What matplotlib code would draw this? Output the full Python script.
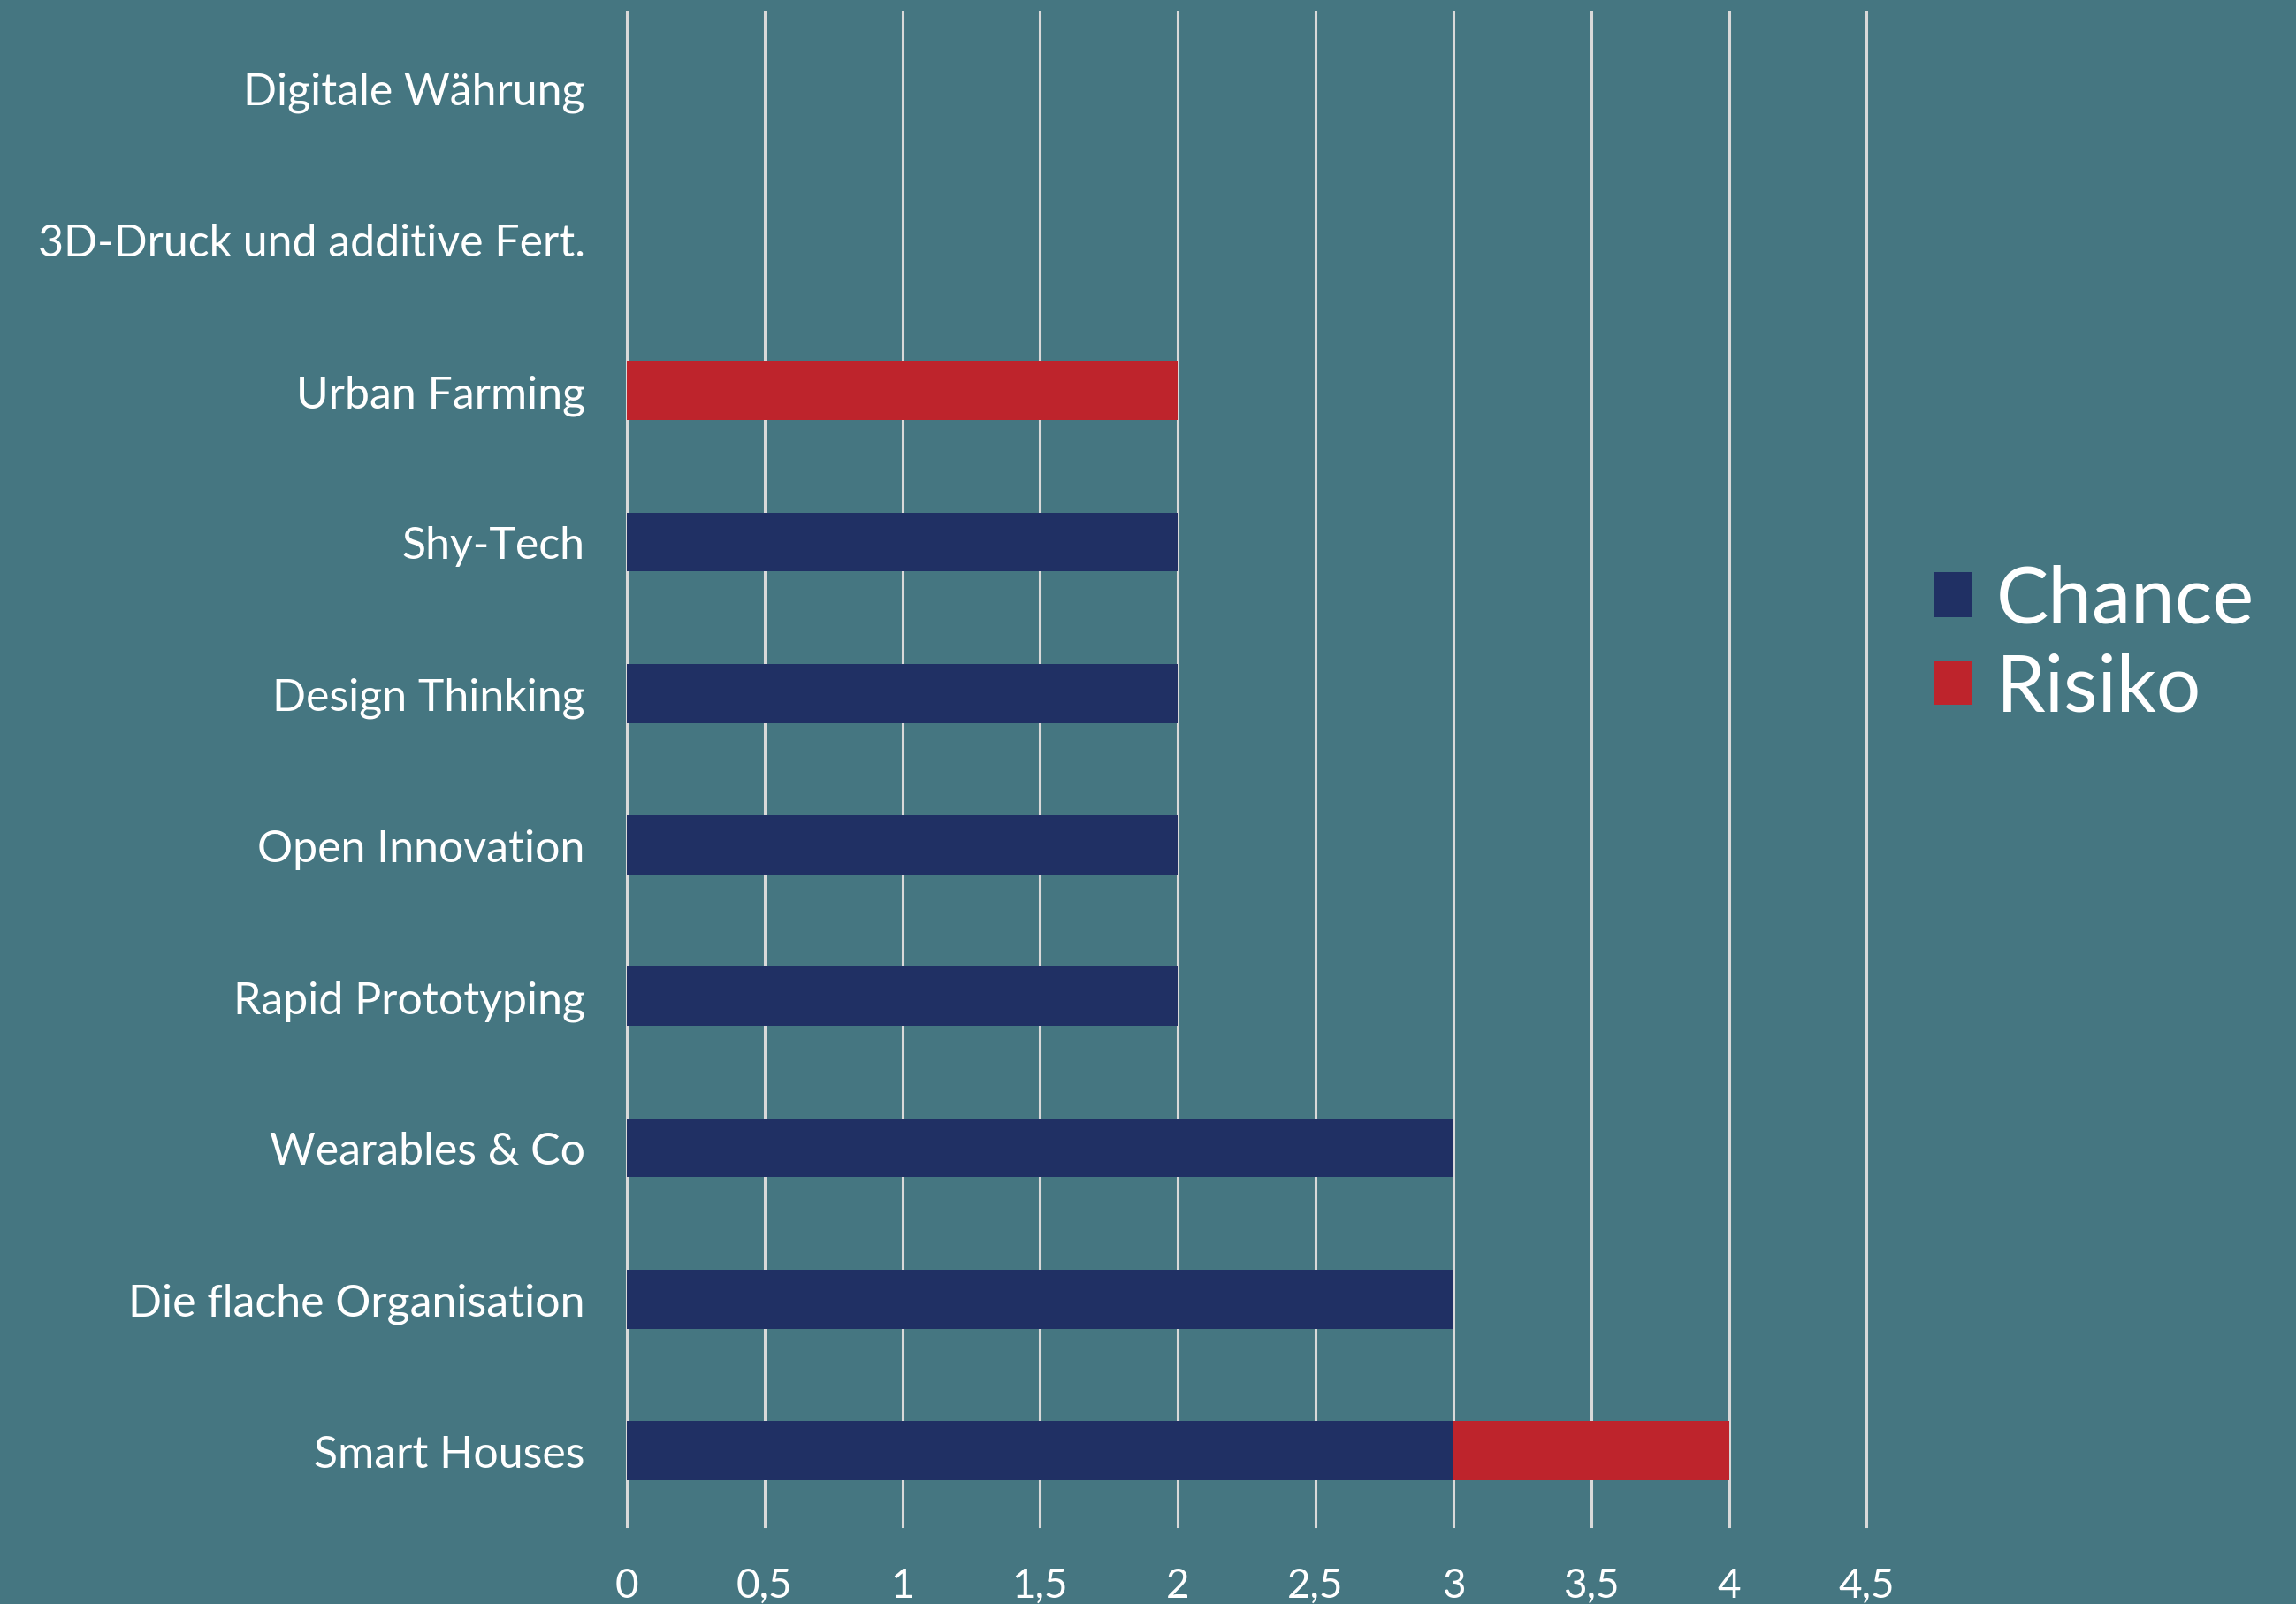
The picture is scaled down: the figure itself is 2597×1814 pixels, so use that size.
import matplotlib
matplotlib.use("Agg")
import matplotlib.pyplot as plt
import numpy as np

# Daten (von oben nach unten)
kategorien = ["Digitale Währung", "3D-Druck und additive Fert.", "Urban Farming",
              "Shy-Tech", "Design Thinking", "Open Innovation", "Rapid Prototyping",
              "Wearables & Co", "Die flache Organisation", "Smart Houses"]
chance = [0, 0, 0, 2, 2, 2, 2, 3, 3, 3]
risiko = [0, 0, 2, 0, 0, 0, 0, 0, 0, 1]
x_ticks = [0, 0.5, 1, 1.5, 2, 2.5, 3, 3.5, 4, 4.5]
x_ticklabels = ["0", "0,5", "1", "1,5", "2", "2,5", "3", "3,5", "4", "4,5"]

bg = "#457681"
blau = "#203064"
rot = "#BE242C"

plt.rcParams['font.family'] = ['Lato', 'DejaVu Sans']
plt.rcParams['font.weight'] = 'normal'

fig = plt.figure(figsize=(25.97, 18.15), dpi=100, facecolor=bg)
ax = fig.add_axes([0.273, 0.0484, 0.540, 0.9436])
ax.set_facecolor(bg)

y = np.arange(len(kategorien))
b1 = ax.barh(y, chance, height=0.39, color=blau, label="Chance", zorder=3)
b2 = ax.barh(y, risiko, left=chance, height=0.39, color=rot, label="Risiko", zorder=3)

ax.set_ylim(len(kategorien) - 0.5, -0.5)
ax.set_xlim(0, 4.5)
ax.set_yticks(y)
ax.set_yticklabels(kategorien)
ax.set_xticks(x_ticks)
ax.set_xticklabels(x_ticklabels)
ax.tick_params(axis='y', length=0, pad=34, labelsize=36, labelcolor='white')
ax.tick_params(axis='x', length=0, pad=33, labelsize=33, labelcolor='white')

ax.grid(axis='x', color='#d9d9d9', linewidth=2.2, zorder=0)
for line in ax.get_xgridlines():
    line.set_clip_on(False)
for s in ax.spines.values():
    s.set_visible(False)

leg = fig.legend(handles=[b1, b2], labels=["Chance", "Risiko"],
                 loc='center left', bbox_to_anchor=(0.842, 0.598),
                 frameon=False, fontsize=64, labelcolor='white',
                 handlelength=0.5, handleheight=0.5, handletextpad=0.3,
                 labelspacing=0.2, borderaxespad=0, borderpad=0)

fig.savefig("out.png", dpi=100, facecolor=bg)
